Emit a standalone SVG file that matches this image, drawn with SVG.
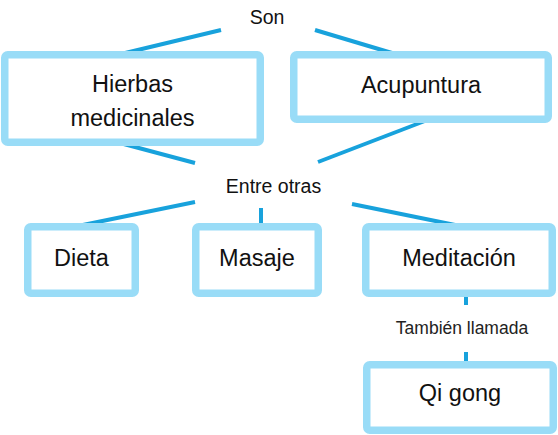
<svg xmlns="http://www.w3.org/2000/svg" width="558" height="435" viewBox="0 0 558 435">
<style>
.box{fill:#fff;stroke:#99dcf7;stroke-width:7.5}
.con{stroke:#18a2dc;stroke-width:4;fill:none}
.t{font-family:"Liberation Sans",Arial,sans-serif;font-size:23.5px;fill:#111;text-anchor:middle}
.l{font-family:"Liberation Sans",Arial,sans-serif;font-size:19.5px;fill:#111;text-anchor:middle}
.s{font-family:"Liberation Sans",Arial,sans-serif;font-size:17.5px;fill:#222;text-anchor:middle}
</style>
<rect width="558" height="435" fill="#fff"/>
<g id="connectors">
<line class="con" x1="221" y1="30" x2="121" y2="54"/>
<line class="con" x1="315" y1="30" x2="402" y2="56"/>
<line class="con" x1="120" y1="143" x2="195" y2="163"/>
<line class="con" x1="430" y1="119" x2="318" y2="162"/>
<line class="con" x1="195" y1="202" x2="78" y2="226"/>
<line class="con" x1="261" y1="208" x2="261" y2="226"/>
<line class="con" x1="352" y1="204" x2="460" y2="226"/>
<line class="con" x1="466" y1="295" x2="466" y2="305"/>
<line class="con" x1="466" y1="352" x2="466" y2="364"/>
</g>
<g id="label-son"><text class="l" x="267" y="24">Son</text></g>
<g id="label-entre"><text class="l" x="273.5" y="193">Entre otras</text></g>
<g id="label-tambien"><text class="s" x="462" y="334">También llamada</text></g>
<g id="hierbas">
<rect class="box" x="4.75" y="54.75" width="255.5" height="87.5" rx="3"/>
<text class="t" x="132.5" y="92">Hierbas</text>
<text class="t" x="132.5" y="126">medicinales</text>
</g>
<g id="acupuntura">
<rect class="box" x="293.75" y="54.75" width="254.5" height="64.5" rx="3"/>
<text class="t" x="421" y="93">Acupuntura</text>
</g>
<g id="dieta">
<rect class="box" x="27.75" y="226.75" width="107.5" height="66.5" rx="3"/>
<text class="t" x="81.5" y="266">Dieta</text>
</g>
<g id="masaje">
<rect class="box" x="195.75" y="226.75" width="122.5" height="66.5" rx="3"/>
<text class="t" x="257" y="266">Masaje</text>
</g>
<g id="meditacion">
<rect class="box" x="365.75" y="226.75" width="186.5" height="66.5" rx="3"/>
<text class="t" x="459" y="266">Meditación</text>
</g>
<g id="qigong">
<rect class="box" x="366.75" y="364.75" width="186.5" height="65.5" rx="3"/>
<text class="t" x="460" y="401">Qi gong</text>
</g>
</svg>
